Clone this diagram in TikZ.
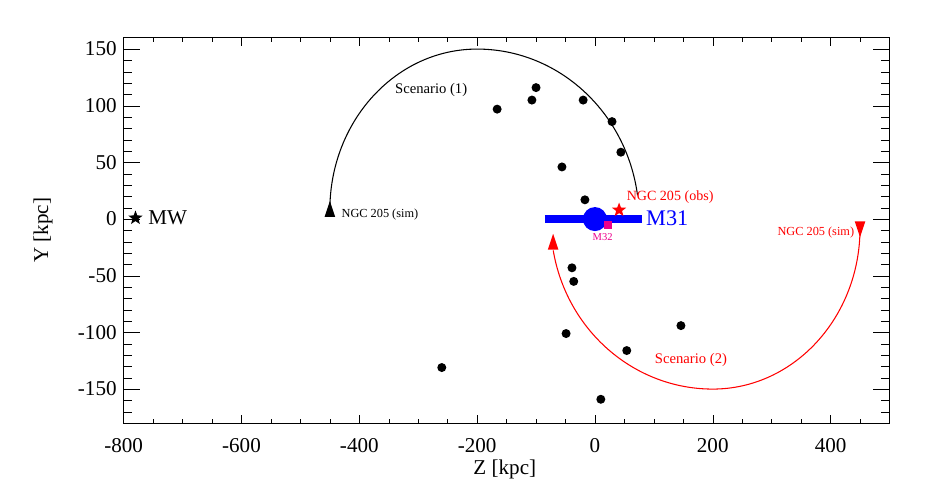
\documentclass[tikz,border=0pt]{standalone}
\usepackage{fontspec}
\setmainfont{Liberation Serif}
\usetikzlibrary{shapes.geometric}
\begin{document}
\begin{tikzpicture}[x=0.01767cm,y=0.034cm]

    \tikzset{galdot/.style={circle,fill=black,inner sep=0pt,minimum size=0.27cm},
             starmark/.style={star,star points=5,star point ratio=2.4,inner sep=0pt,minimum size=0.45cm},
             tick/.style={font=\fontsize{18}{18}\selectfont},
             smalllab/.style={font=\fontsize{10.5}{10.5}\selectfont}}
    \useasboundingbox (-1010,-248) rectangle (562,193.3);

    % frame and ticks
    \draw[line width=0.8pt] (-800,-180) rectangle (500,160);
    \foreach \z in {-750,-700,...,450} {
        \draw (\z,-180) -- ++(0,4); \draw (\z,160) -- ++(0,-4);
    }
    \foreach \z in {-800,-600,...,400} {
        \draw (\z,-180) -- ++(0,7); \draw (\z,160) -- ++(0,-7);
        \node[tick] at (\z,-199.5) {\z};
    }
    \foreach \y in {-170,-160,...,150} {
        \draw (-800,\y) -- ++(14,0); \draw (500,\y) -- ++(-14,0);
    }
    \foreach \y in {-150,-100,...,150} {
        \draw (-800,\y) -- ++(28,0); \draw (500,\y) -- ++(-28,0);
        \node[tick,anchor=east] at (-805,\y) {\y};
    }
    \node[tick] (zlab) at (-153,-221) {Z [kpc]};
    \node[tick,rotate=90] (ylab) at (-937,-10) {Y [kpc]};

    % satellites
    \foreach \z/\y in {-166/97,-100/116,-107/105,-20/105,29/86,44/59,-56/46,-17/17,
                       -39/-43,-36/-55,-49/-101,146/-94,54/-116,-260/-131,10/-159}
        \node[galdot] at (\z,\y) {};

    % scenario 1
    \draw[line width=0.9pt] (-450,8) arc[start angle=180,end angle=90,x radius=250,y radius=142]
                 arc[start angle=90,end angle=8,x radius=275,y radius=150];
    \fill (-450,16) -- (-459,2) -- (-441,2) -- cycle;
    \node[smalllab,anchor=west] (sim1) at (-437,4) {NGC 205 (sim)};
    \node[font=\fontsize{12.5}{12.5}\selectfont] (scen1) at (-278,114) {Scenario (1)};

    % scenario 2
    \draw[line width=0.9pt,red] (450,-8) arc[start angle=0,end angle=-90,x radius=250,y radius=142]
                     arc[start angle=-90,end angle=-170,x radius=275,y radius=148];
    \fill[red] (-71,-13) -- (-80,-27) -- (-62,-27) -- cycle;
    \fill[red] (450,-16) -- (441,-2) -- (459,-2) -- cycle;
    \node[smalllab,red] (sim2) at (375,-12) {NGC 205 (sim)};
    \node[red,font=\fontsize{12.5}{12.5}\selectfont] (scen2) at (163,-124) {Scenario (2)};

    % M31, M32, NGC 205
    \draw[blue,line width=0.24cm] (-85,0) -- (80,0);
    \fill[blue] (0,0) circle[radius=0.36cm];
    \node[fill=magenta,inner sep=0pt,minimum size=0.24cm] (m32) at (22,-5) {};
    \node[magenta,font=\fontsize{9}{9}\selectfont] (m32lab) at (13,-16) {M32};
    \node[blue,anchor=west,font=\fontsize{19}{19}\selectfont] (m31) at (80,1) {M31};
    \node[starmark,fill=red] (obs) at (41,8) {};
    \node[red,anchor=west,font=\fontsize{12}{12}\selectfont] (obslab) at (47,19) {NGC 205 (obs)};

    % Milky Way
    \node[starmark,fill=black] (mw) at (-780,1) {};
    \node[anchor=west,font=\fontsize{18}{18}\selectfont] (mwlab) at (-765,1) {MW};

\end{tikzpicture}
\end{document}
